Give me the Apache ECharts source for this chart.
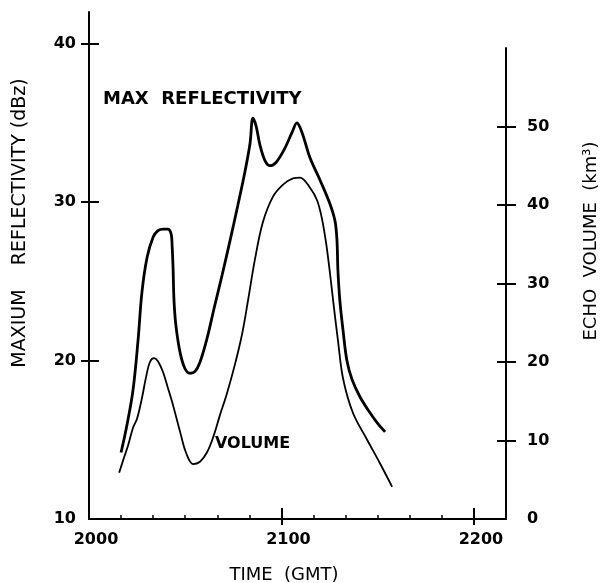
<!DOCTYPE html>
<html>
<head>
<meta charset="utf-8">
<script src="https://cdn.jsdelivr.net/npm/echarts@6/dist/echarts.min.js"></script>
<style>
html,body{margin:0;padding:0;background:#fff;}
#chart{width:603px;height:583px;}
</style>
</head>
<body>
<div id="chart"></div>
<script>
// Time is in minutes after 2000 GMT
const xTickValues = [0, 60, 120];
const xTickLabels = ['2000', '2100', '2200'];
const leftTicks = [10, 20, 30, 40];
const rightTicks = [0, 10, 20, 30, 40, 50];

// MAX REFLECTIVITY (dBz), left axis
const reflMinutes = [10.0, 11.8, 13.7, 15.3, 16.5, 18.1, 20.0, 21.5, 23.1, 24.6, 25.6, 25.9, 26.2, 26.5, 27.1, 28.4, 29.9, 31.5, 33.0, 34.6, 36.8, 39.0, 41.5, 44.0, 46.4, 48.6, 50.2, 51.1, 52.1, 53.3, 54.9, 56.4, 58.3, 60.8, 63.3, 64.8, 66.4, 68.9, 72.0, 75.1, 76.7, 77.3, 77.6, 78.2, 79.2, 80.4, 82.0, 84.5, 87.6, 90.1, 92.3];
const reflDbz = [14.2, 15.9, 18.1, 21.3, 24.3, 26.5, 27.8, 28.2, 28.3, 28.3, 28.0, 27.3, 25.9, 23.8, 22.2, 20.5, 19.5, 19.2, 19.3, 19.9, 21.4, 23.3, 25.4, 27.6, 29.8, 31.9, 33.7, 35.3, 34.8, 33.6, 32.6, 32.3, 32.5, 33.3, 34.4, 35.0, 34.4, 32.8, 31.4, 29.9, 28.8, 27.6, 25.7, 23.8, 21.9, 20.0, 18.8, 17.7, 16.7, 16.0, 15.5];

// ECHO VOLUME (km3), right axis
const volMinutes = [9.4, 10.9, 12.2, 13.7, 15.0, 16.5, 17.8, 19.0, 20.3, 21.5, 23.1, 24.6, 26.2, 28.4, 30.2, 32.4, 34.6, 36.8, 38.7, 40.8, 43.0, 45.5, 47.7, 49.6, 51.7, 54.2, 57.4, 60.5, 63.6, 65.8, 68.9, 71.1, 72.6, 73.9, 75.1, 76.4, 77.6, 79.2, 82.3, 86.7, 90.7, 94.5];
const volKm3 = [5.9, 7.8, 9.4, 11.6, 12.8, 15.4, 18.1, 20.0, 20.5, 20.1, 18.7, 16.7, 14.5, 11.1, 8.5, 7.0, 7.3, 8.5, 10.4, 13.2, 16.0, 19.7, 23.5, 27.9, 33.0, 37.8, 41.1, 42.6, 43.4, 43.5, 42.2, 40.6, 38.3, 35.2, 31.4, 26.8, 22.8, 17.9, 13.5, 10.1, 7.1, 4.1];

const pair = (xs, ys) => xs.map((x, i) => [x, ys[i]]);
const tickFont = {color: '#000', fontFamily: 'DejaVu Sans', fontWeight: 'bold', fontSize: 16};
const lineBlack = {show: true, onZero: false, lineStyle: {color: '#000', width: 2}};
const noLine = {show: false, onZero: false};

const chart = echarts.init(document.getElementById('chart'), null, {renderer: 'canvas'});
chart.setOption({
  animation: false,
  backgroundColor: '#fff',
  grid: [
    {left: 89, right: 97, top: 12, bottom: 64},
    {left: 89, right: 97, top: 48, bottom: 64}
  ],
  xAxis: [
    {gridIndex: 0, type: 'value', position: 'bottom', min: 0, max: 130, interval: 10,
     axisLine: lineBlack,
     axisTick: {show: true, inside: true, length: 4, lineStyle: {color: '#000', width: 1.5}},
     axisLabel: Object.assign({customValues: xTickValues, margin: 13, padding: [0, 0, 0, 14],
       formatter: v => xTickLabels[xTickValues.indexOf(v)]}, tickFont),
     splitLine: {show: false}},
    {gridIndex: 0, type: 'value', position: 'bottom', min: 0, max: 130,
     axisLine: noLine,
     axisTick: {show: true, inside: true, length: 11, customValues: [60, 120], lineStyle: {color: '#000', width: 2}},
     axisLabel: {show: false}, splitLine: {show: false}},
    {gridIndex: 0, type: 'value', position: 'bottom', min: 0, max: 130,
     axisLine: noLine,
     axisTick: {show: true, inside: false, length: 6, customValues: [60, 120], lineStyle: {color: '#000', width: 2}},
     axisLabel: {show: false}, splitLine: {show: false}},
    {gridIndex: 1, type: 'value', position: 'bottom', min: 0, max: 130, show: false}
  ],
  yAxis: [
    {gridIndex: 0, type: 'value', position: 'left', min: 10, max: 42,
     axisLine: lineBlack,
     axisTick: {show: true, inside: false, length: 8, customValues: [20, 30, 40], lineStyle: {color: '#000', width: 2}},
     axisLabel: Object.assign({customValues: leftTicks, margin: 13}, tickFont),
     splitLine: {show: false}},
    {gridIndex: 0, type: 'value', position: 'left', min: 10, max: 42,
     axisLine: noLine,
     axisTick: {show: true, inside: true, length: 10, customValues: [20, 30, 40], lineStyle: {color: '#000', width: 2}},
     axisLabel: {show: false}, splitLine: {show: false}},
    {gridIndex: 1, type: 'value', position: 'right', min: 0, max: 60,
     axisLine: lineBlack,
     axisTick: {show: true, inside: false, length: 10, customValues: [10, 20, 30, 40, 50], lineStyle: {color: '#000', width: 2}},
     axisLabel: Object.assign({customValues: rightTicks, margin: 21}, tickFont),
     splitLine: {show: false}},
    {gridIndex: 1, type: 'value', position: 'right', min: 0, max: 60,
     axisLine: noLine,
     axisTick: {show: true, inside: true, length: 9, customValues: [10, 20, 30, 40, 50], lineStyle: {color: '#000', width: 2}},
     axisLabel: {show: false}, splitLine: {show: false}}
  ],
  series: [
    {name: 'MAX REFLECTIVITY', type: 'line', xAxisIndex: 0, yAxisIndex: 0,
     data: pair(reflMinutes, reflDbz), showSymbol: false, symbol: 'none', smooth: 0.35,
     lineStyle: {color: '#000', width: 2.8}},
    {name: 'VOLUME', type: 'line', xAxisIndex: 3, yAxisIndex: 2,
     data: pair(volMinutes, volKm3), showSymbol: false, symbol: 'none', smooth: 0.35,
     lineStyle: {color: '#000', width: 1.8}}
  ],
  graphic: [
    {type: 'text', x: 103, y: 99, style: {text: 'MAX  REFLECTIVITY', fill: '#000', font: 'bold 18px "DejaVu Sans"', align: 'left', verticalAlign: 'middle'}},
    {type: 'text', x: 215, y: 444, style: {text: 'VOLUME', fill: '#000', font: 'bold 16px "DejaVu Sans"', align: 'left', verticalAlign: 'middle'}},
    {type: 'text', x: 20, y: 223, rotation: Math.PI / 2, style: {text: 'MAXIUM    REFLECTIVITY (dBz)', fill: '#000', font: '19px "DejaVu Sans"', align: 'center', verticalAlign: 'middle'}},
    {type: 'text', x: 591, y: 241, rotation: Math.PI / 2, style: {text: 'ECHO  VOLUME  (km³)', fill: '#000', font: '18px "DejaVu Sans"', align: 'center', verticalAlign: 'middle'}},
    {type: 'text', x: 284, y: 575, style: {text: 'TIME  (GMT)', fill: '#000', font: '18px "DejaVu Sans"', align: 'center', verticalAlign: 'middle'}}
  ]
});
</script>
</body>
</html>
